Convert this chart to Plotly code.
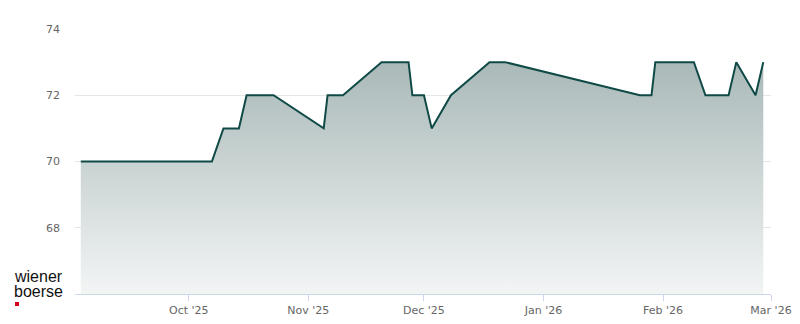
import plotly.graph_objects as go

dates = ["2025-09-03", "2025-10-07", "2025-10-10", "2025-10-14", "2025-10-16",
         "2025-10-23", "2025-11-05", "2025-11-06", "2025-11-10", "2025-11-20",
         "2025-11-27", "2025-11-28", "2025-12-01", "2025-12-03", "2025-12-08",
         "2025-12-18", "2025-12-22", "2026-01-26", "2026-01-29", "2026-01-30",
         "2026-02-09", "2026-02-12", "2026-02-18", "2026-02-20", "2026-02-25",
         "2026-02-27"]
prices = [70, 70, 71, 71, 72,
          72, 71, 72, 72, 73,
          73, 72, 72, 71, 72,
          73, 73, 72, 72, 73,
          73, 72, 72, 73, 72,
          73]
ytick_vals = [68, 70, 72, 74]
xtick_vals = ["2025-10-01", "2025-11-01", "2025-12-01", "2026-01-01", "2026-02-01", "2026-03-01"]

L, R, T, B = 75, 29, 29, 30
W, H = 800, 324
PW, PH = W - L - R, H - T - B


def px(x):
    return (x - L) / PW


def py(y):
    return (H - B - y) / PH


fig = go.Figure()
fig.add_trace(go.Scatter(
    x=dates, y=prices, mode="lines",
    line=dict(color="#0f4a46", width=2),
    fill="tozeroy",
    fillgradient=dict(type="vertical", start=66, stop=73,
                      colorscale=[[0, "#f3f5f5"], [1, "#a9b9b8"]]),
    hoverinfo="x+y",
))

fig.update_layout(
    width=W, height=H,
    margin=dict(l=L, r=R, t=T, b=B, autoexpand=False),
    paper_bgcolor="white", plot_bgcolor="white",
    showlegend=False,
    font=dict(family="DejaVu Sans", size=11, color="#666666"),
    xaxis=dict(
        range=["2025-09-01 12:00", "2026-03-01"],
        tickvals=xtick_vals, tickformat="%b '%y",
        showgrid=False, showline=True, linecolor="#ccd6eb", linewidth=1,
        ticks="outside", ticklen=6, tickcolor="#ccd6eb",
        zeroline=False, automargin=False,
    ),
    yaxis=dict(
        range=[66, 74], tickvals=ytick_vals,
        showgrid=True, gridcolor="#e6e6e6", gridwidth=1,
        zeroline=False, showline=False, ticks="",
        ticklabelstandoff=14, automargin=False,
    ),
)

for txt, yy in (("wiener", 276), ("boerse", 291)):
    fig.add_annotation(xref="paper", yref="paper", x=px(13), y=py(yy),
                       xanchor="left", yanchor="middle", showarrow=False,
                       text=txt, borderpad=0,
                       font=dict(family="Liberation Sans", size=16, color="#111111"))
fig.add_shape(type="rect", xref="paper", yref="paper",
              x0=px(15), x1=px(19), y0=py(306), y1=py(302),
              fillcolor="#d9001b", line=dict(width=0))

fig.write_html("out.html")
